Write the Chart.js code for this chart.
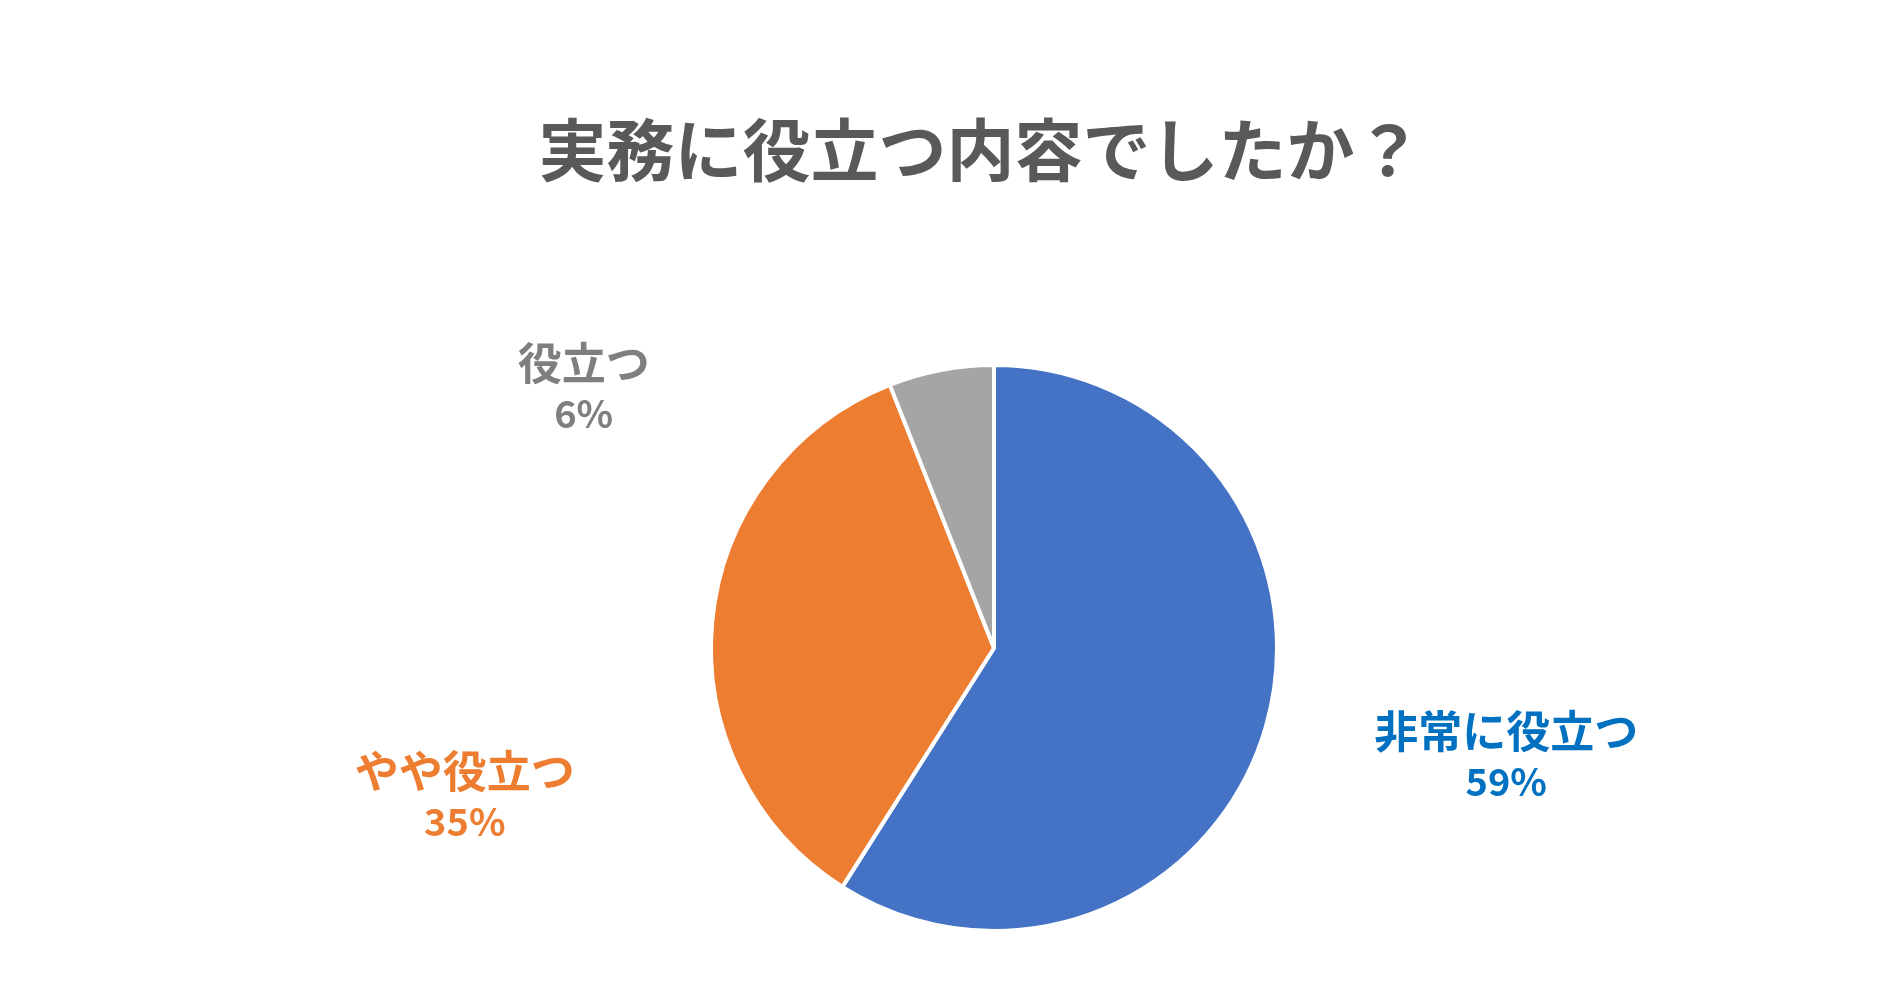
<!DOCTYPE html>
<html>
<head>
<meta charset="utf-8">
<script src="https://cdn.jsdelivr.net/npm/chart.js@4"></script>
<style>
  html, body { margin: 0; padding: 0; background: #fff; }
  #wrap { width: 1891px; height: 997px; }
</style>
</head>
<body>
<div id="wrap"><canvas id="myChart"></canvas></div>
<script>
const titleText = "実務に役立つ内容でしたか？";
const categories = ["非常に役立つ", "やや役立つ", "役立つ"];
const values = [59, 35, 6];
const sliceColors = ["#4472C4", "#ED7D31", "#A5A5A5"];
const labelColors = ["#0070C0", "#ED7D31", "#7F7F7F"];
// label placement relative to pie centre, in radius units
const labelOffsets = [[1.81, 0.38], [-1.87, 0.52], [-1.45, -0.92]];

const font = "'Noto Sans CJK JP', 'Noto Sans', sans-serif";

const textPlugin = {
  id: "textPlugin",
  afterDraw(chart) {
    const c = chart.ctx;
    c.save();
    c.textAlign = "center";
    c.textBaseline = "middle";
    c.fillStyle = "#595959";
    c.font = "bold 68px " + font;
    c.fillText(titleText, chart.width / 2 + 35, 150);

    const arc = chart.getDatasetMeta(0).data[0];
    const r = arc.outerRadius;
    categories.forEach((name, i) => {
      const x = arc.x + labelOffsets[i][0] * r;
      const y = arc.y + labelOffsets[i][1] * r;
      c.fillStyle = labelColors[i];
      c.font = "bold 44px " + font;
      c.fillText(name, x, y - 24);
      c.font = "bold 38px " + font;
      c.fillText(values[i] + "%", x, y + 26);
    });
    c.restore();
  },
};

new Chart(document.getElementById("myChart"), {
  type: "pie",
  data: {
    labels: categories,
    datasets: [
      {
        data: values,
        backgroundColor: sliceColors,
        borderColor: "#FFFFFF",
        borderWidth: 4,
      },
    ],
  },
  options: {
    responsive: true,
    maintainAspectRatio: false,
    animation: false,
    layout: { padding: { top: 363, bottom: 64, left: 709, right: 612 } },
    plugins: {
      legend: { display: false },
      tooltip: { enabled: false },
    },
  },
  plugins: [textPlugin],
});
</script>
</body>
</html>
